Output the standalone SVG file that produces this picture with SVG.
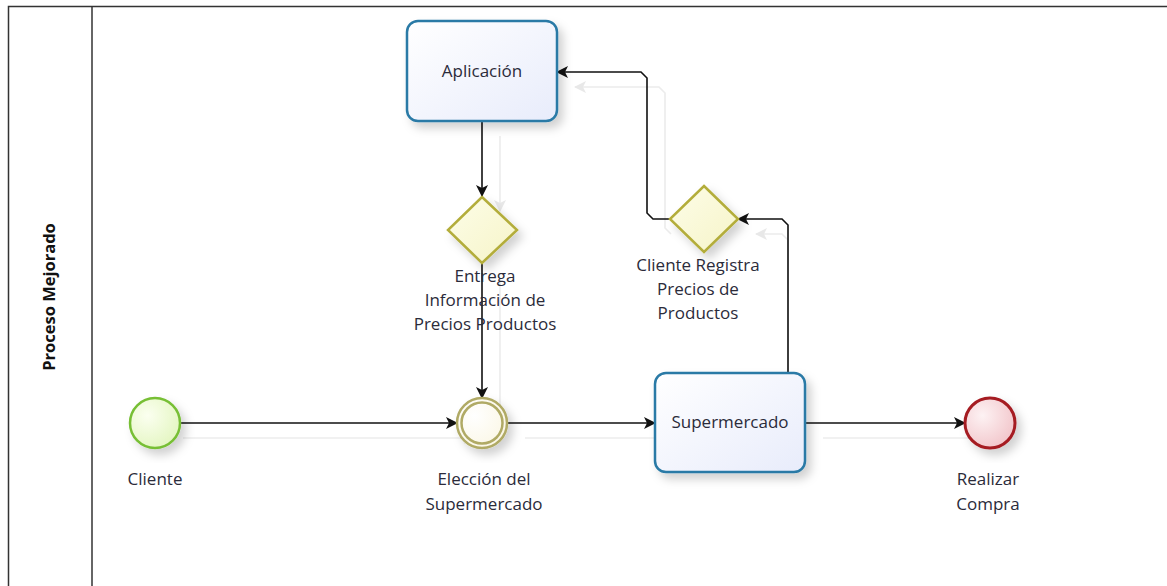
<svg xmlns="http://www.w3.org/2000/svg" width="1167" height="586" viewBox="0 0 1167 586">
<style>
.lbl{font-family:"Open Sans","Noto Sans","Liberation Sans",sans-serif;font-size:17px;fill:#2b2b3a;text-anchor:middle}
.task{fill:url(#taskFill);stroke:#2a7aa6;stroke-width:2.5}
.gw{fill:url(#gwFill);stroke:#b3ad3a;stroke-width:2.5}
.conn{fill:none;stroke:#111;stroke-width:1.6}
.ghost{fill:none;stroke:#ececec;stroke-width:1.6}
</style>
<defs>
<linearGradient id="taskFill" x1="0" y1="0" x2="1" y2="1"><stop offset="0" stop-color="#ffffff"/><stop offset="1" stop-color="#e8ecfb"/></linearGradient>
<linearGradient id="gwFill" x1="0" y1="0" x2="1" y2="1"><stop offset="0" stop-color="#fdfde8"/><stop offset="1" stop-color="#f6f4c8"/></linearGradient>
<radialGradient id="startFill" cx="0.35" cy="0.35" r="0.7"><stop offset="0" stop-color="#fbfff0"/><stop offset="1" stop-color="#e4f6c2"/></radialGradient>
<radialGradient id="endFill" cx="0.35" cy="0.35" r="0.7"><stop offset="0" stop-color="#fdf2f3"/><stop offset="1" stop-color="#f2c6cb"/></radialGradient>
<radialGradient id="midFill" cx="0.35" cy="0.35" r="0.7"><stop offset="0" stop-color="#ffffff"/><stop offset="1" stop-color="#fbf7e6"/></radialGradient>
<filter id="sh" x="-30%" y="-30%" width="160%" height="160%"><feDropShadow dx="5" dy="6" stdDeviation="5" flood-color="#000" flood-opacity="0.18"/></filter>
<marker id="arr" viewBox="0 0 12 12" refX="11" refY="6" markerWidth="12" markerHeight="12" markerUnits="userSpaceOnUse" orient="auto"><path d="M0,0 L12,6 L0,12 L3,6 Z" fill="#111"/></marker>
<marker id="garr" viewBox="0 0 12 12" refX="11" refY="6" markerWidth="12" markerHeight="12" markerUnits="userSpaceOnUse" orient="auto"><path d="M0,0 L12,6 L0,12 L3,6 Z" fill="#e8e8e8"/></marker>
</defs>
<rect x="0" y="0" width="1167" height="586" fill="#ffffff"/>
<g id="pool">
<rect x="8.5" y="6.5" width="1170" height="600" fill="none" stroke="#333" stroke-width="1.5"/>
<line x1="92" y1="6.5" x2="92" y2="586" stroke="#333" stroke-width="1.5"/>
<text x="0" y="0" transform="translate(55,297) rotate(-90)" style="font-family:'Open Sans','Noto Sans','Liberation Sans',sans-serif;font-size:16.5px;font-weight:bold;fill:#111;text-anchor:middle">Proceso Mejorado</text>
</g>
<g id="ghosts" transform="translate(18,15)">
<path class="ghost" d="M165,423 L457,423" marker-end="url(#garr)"/>
<path class="ghost" d="M482,121 L482,196" marker-end="url(#garr)"/>
<path class="ghost" d="M482,263 L482,398"/>
<path class="ghost" d="M507,423 L640,423"/>
<path class="ghost" d="M770,358 L770,225 L764,219 L738,219" marker-end="url(#garr)"/>
<path class="ghost" d="M653,219 L647,213 L647,78 L641,72 L557,72" marker-end="url(#garr)"/>
<path class="ghost" d="M805,423 L955,423"/>
</g>
<g id="connectors">
<path class="conn" d="M180,423 L457,423" marker-end="url(#arr)"/>
<path class="conn" d="M482,121 L482,196" marker-end="url(#arr)"/>
<path class="conn" d="M482,263 L482,398" marker-end="url(#arr)"/>
<path class="conn" d="M507,423 L655,423" marker-end="url(#arr)"/>
<path class="conn" d="M788,373 L788,225 L782,219 L738,219" marker-end="url(#arr)"/>
<path class="conn" d="M670,219 L653,219 L647,213 L647,78 L641,72 L557,72" marker-end="url(#arr)"/>
<path class="conn" d="M805,423 L965,423" marker-end="url(#arr)"/>
</g>
<g id="aplicacion">
<rect class="task" x="407" y="21" width="150" height="100" rx="11" filter="url(#sh)"/>
<text class="lbl" x="482" y="77">Aplicación</text>
</g>
<g id="supermercado">
<rect class="task" x="655" y="373" width="150" height="99" rx="11" filter="url(#sh)"/>
<text class="lbl" x="730" y="428">Supermercado</text>
</g>
<g id="cliente">
<circle cx="155" cy="423" r="25" fill="url(#startFill)" stroke="#77bf35" stroke-width="2.5" filter="url(#sh)"/>
<text class="lbl" x="155" y="485">Cliente</text>
</g>
<g id="eleccion">
<circle cx="482" cy="423" r="25" fill="url(#midFill)" stroke="#b0aa65" stroke-width="2.5" filter="url(#sh)"/>
<circle cx="482" cy="423" r="20.5" fill="none" stroke="#b0aa65" stroke-width="2.5"/>
<text class="lbl" x="484" y="485">Elección del</text>
<text class="lbl" x="484" y="510">Supermercado</text>
</g>
<g id="gw-entrega">
<path class="gw" d="M482,197 L517,230 L482,263 L448,230 Z" filter="url(#sh)"/>
<text class="lbl" x="485" y="282">Entrega</text>
<text class="lbl" x="485" y="306">Información de</text>
<text class="lbl" x="485" y="330">Precios Productos</text>
</g>
<g id="gw-registra">
<path class="gw" d="M704,186 L738,219 L704,252 L670,219 Z" filter="url(#sh)"/>
<text class="lbl" x="698" y="271">Cliente Registra</text>
<text class="lbl" x="698" y="295">Precios de</text>
<text class="lbl" x="698" y="319">Productos</text>
</g>
<g id="realizar">
<circle cx="990" cy="423" r="25" fill="url(#endFill)" stroke="#a51c22" stroke-width="3" filter="url(#sh)"/>
<text class="lbl" x="988" y="485">Realizar</text>
<text class="lbl" x="988" y="510">Compra</text>
</g>
</svg>
